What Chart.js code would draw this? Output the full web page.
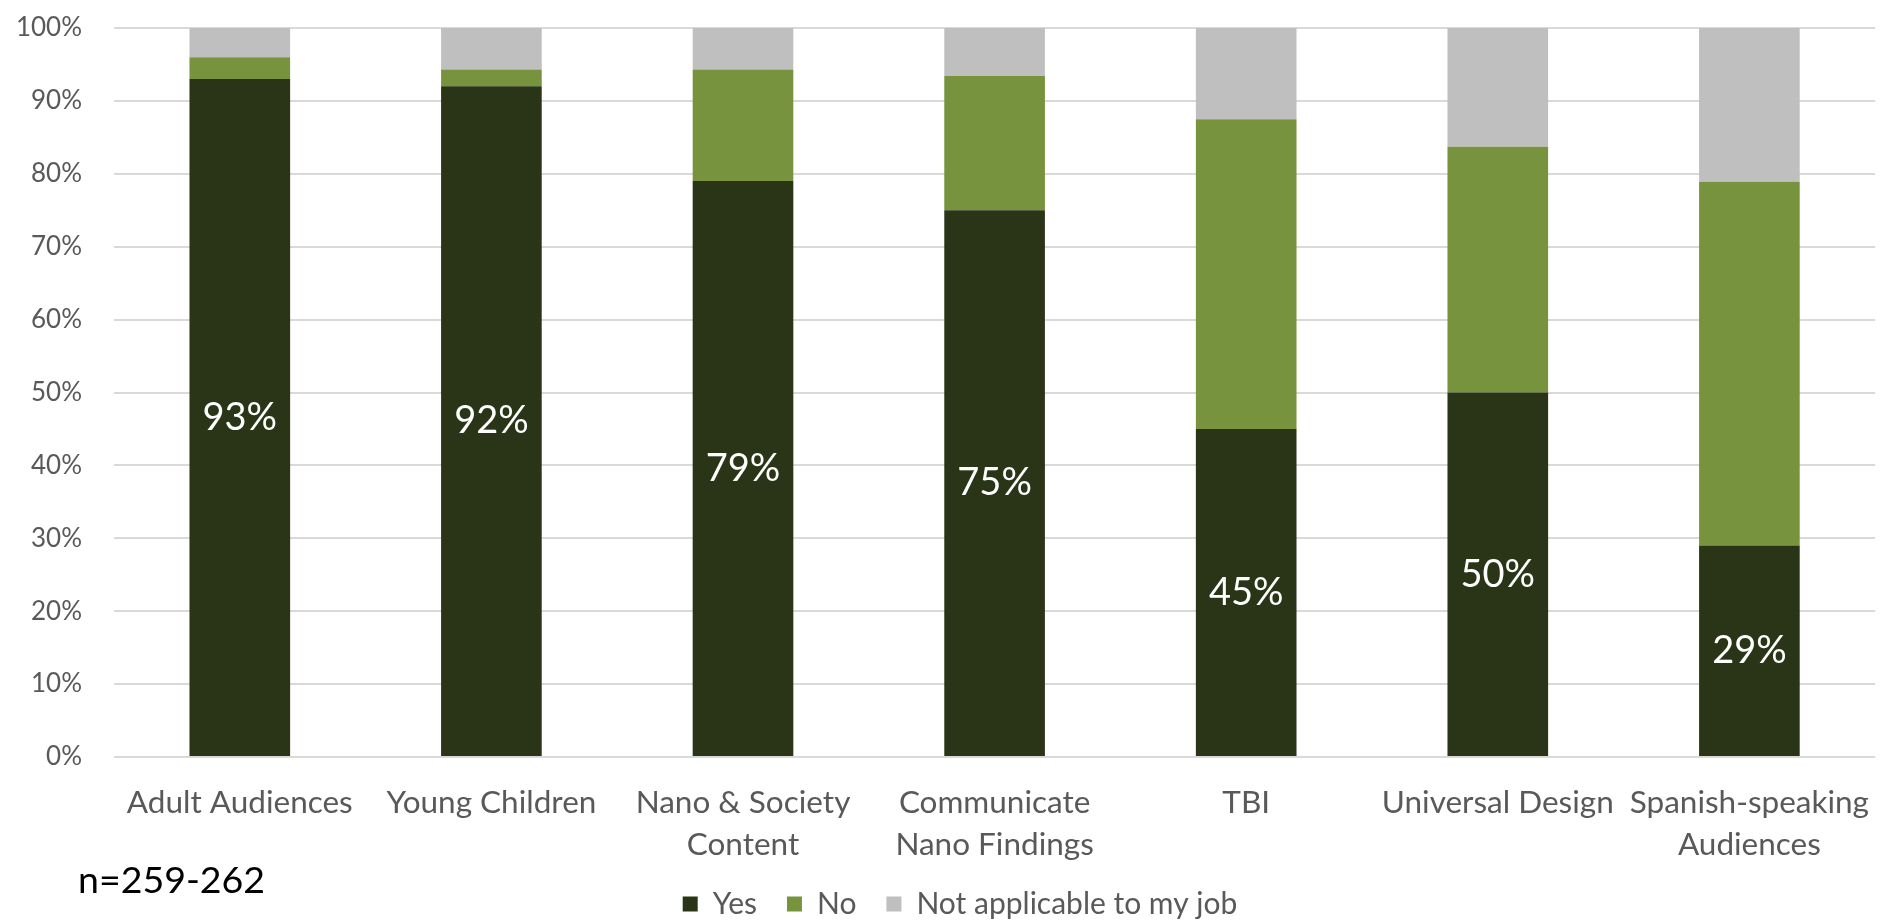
<!DOCTYPE html>
<html>
<head>
<meta charset="utf-8">
<script src="https://cdn.jsdelivr.net/npm/chart.js@4"></script>
<style>
  body { margin: 0; background: #fff; }
  #wrap { position: relative; width: 1886px; height: 920px; }
  #note { position: absolute; left: 78px; top: 856px; font: 37.5px Lato, sans-serif; color: #000; }
</style>
</head>
<body>
<div id="wrap">
  <canvas id="chartTraining"></canvas>
  <div id="note">n=259-262</div>
</div>
<script>
const categories = ['Adult Audiences', 'Young Children', ['Nano & Society', 'Content'],
  ['Communicate', 'Nano Findings'], 'TBI', 'Universal Design', ['Spanish-speaking', 'Audiences']];
const yesValues = [93, 92, 79, 75, 45, 50, 29];
const noValues = [3, 2.3, 15.3, 18.4, 42.5, 33.7, 49.9];
const naValues = [4, 5.7, 5.7, 6.6, 12.5, 16.3, 21.1];
const yTicks = [0, 10, 20, 30, 40, 50, 60, 70, 80, 90, 100];

const gris = '#595959';

// white percentage labels in the middle of the "Yes" bars
const yesLabels = {
  id: 'yesLabels',
  afterDatasetsDraw(chart) {
    const ctx = chart.ctx;
    const meta = chart.getDatasetMeta(0);
    ctx.save();
    ctx.fillStyle = '#ffffff';
    ctx.font = '38px Lato';
    ctx.textAlign = 'center';
    ctx.textBaseline = 'middle';
    meta.data.forEach((bar, i) => {
      const p = bar.getProps(['x', 'y', 'base'], true);
      ctx.fillText(yesValues[i] + '%', p.x, (p.y + p.base) / 2);
    });
    ctx.restore();
  }
};

// nudge the legend a bit to the right and up
const legendShift = {
  id: 'legendShift',
  afterLayout(chart) {
    const lg = chart.legend;
    lg.left += 17; lg.right += 17;
    lg.top -= 4; lg.bottom -= 4;
  }
};

const ctx = document.getElementById('chartTraining');

new Chart(ctx, {
  type: 'bar',
  data: {
    labels: categories,
    datasets: [
      { label: 'Yes', data: yesValues, backgroundColor: '#2A3517' },
      { label: 'No', data: noValues, backgroundColor: '#78933D' },
      { label: 'Not applicable to my job', data: naValues, backgroundColor: '#BFBFBF' }
    ]
  },
  options: {
    responsive: true,
    maintainAspectRatio: false,
    animation: false,
    datasets: { bar: { categoryPercentage: 1, barPercentage: 0.4 } },
    layout: { padding: { top: 28, right: 0, left: 0, bottom: -13 } },
    scales: {
      x: {
        stacked: true,
        grid: { display: false },
        border: { display: false },
        ticks: { color: gris, font: { family: 'Lato', size: 31.5, lineHeight: 1.33 }, padding: 17, maxRotation: 0, autoSkip: false },
        afterFit(scale) { scale.height = 106; }
      },
      y: {
        stacked: true,
        min: 0,
        max: 100,
        afterBuildTicks(scale) { scale.ticks = yTicks.map(v => ({ value: v })); },
        grid: { color: '#D9D9D9', lineWidth: 2, drawTicks: false },
        border: { display: false },
        ticks: { color: gris, font: { family: 'Lato', size: 26 }, padding: 32, callback: v => v + '%' },
        afterFit(scale) {
          scale.width = 114;
          scale.paddingTop = 0;
          scale.paddingBottom = 0;
        }
      }
    },
    plugins: {
      legend: {
        position: 'bottom',
        labels: { color: gris, font: { family: 'Lato', size: 30 }, boxWidth: 15, boxHeight: 15, padding: 30 }
      },
      tooltip: { enabled: false }
    }
  },
  plugins: [yesLabels, legendShift]
});
</script>
</body>
</html>
